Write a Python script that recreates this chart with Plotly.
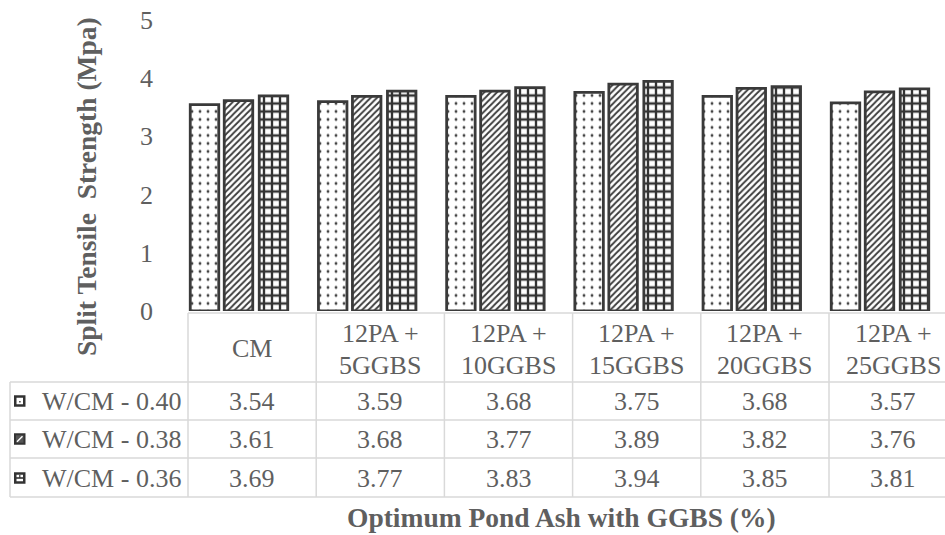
import plotly.graph_objects as go

# ---- data -------------------------------------------------------------
categories = ["CM", "12PA +<br>5GGBS", "12PA +<br>10GGBS", "12PA +<br>15GGBS",
              "12PA +<br>20GGBS", "12PA +<br>25GGBS"]
series_names = ["W/CM - 0.40", "W/CM - 0.38", "W/CM - 0.36"]
wcm_040 = [3.54, 3.59, 3.68, 3.75, 3.68, 3.57]
wcm_038 = [3.61, 3.68, 3.77, 3.89, 3.82, 3.76]
wcm_036 = [3.69, 3.77, 3.83, 3.94, 3.85, 3.81]
y_ticks = [0, 1, 2, 3, 4, 5]
x_title = "Optimum Pond Ash with GGBS (%)"
y_title = "Split Tensile Strength (Mpa)"

series_values = [wcm_040, wcm_038, wcm_036]

# ---- canvas geometry (pixels) -----------------------------------------
W, H = 945, 535
PLOT_LEFT = 188            # left edge of plot area / first table column
COL_W = 128.2              # one category column
Y0_PX, Y5_PX = 311, 19.5   # pixel rows of y = 0 and y = 5

FONT = "Liberation Serif, Times New Roman, serif"
TXT = "#5f5f5f"
EDGE = "#3a3a3a"
GRID = "#d9d9d9"


def px(x):
    return x / W


def py(y):
    return 1 - y / H


fig = go.Figure()

# patterned bars: dots, diagonal hatch, brick-like grid
patterns = [
    dict(shape=".", size=8, solidity=0.1, fgcolor="#444444", bgcolor="white", fillmode="replace"),
    dict(shape="/", size=4.5, solidity=0.4, fgcolor="#3a3a3a", bgcolor="white", fillmode="replace"),
    dict(shape="+", size=8, solidity=0.5, fgcolor="#333333", bgcolor="white", fillmode="replace"),
]
bar_w_px = 28.5
starts_px = [2.25, 36.25, 71.25]
for name, vals, pat, s in zip(series_names, series_values, patterns, starts_px):
    fig.add_trace(go.Bar(
        x=list(range(len(categories))), y=vals, name=name,
        width=bar_w_px / COL_W, offset=(s - COL_W / 2) / COL_W,
        marker=dict(color="white", pattern=pat, line=dict(color=EDGE, width=2.8)),
        showlegend=False, hoverinfo="name+y",
    ))

x_span = (W - PLOT_LEFT) / COL_W
fig.update_layout(
    width=W, height=H, autosize=False,
    margin=dict(l=0, r=0, t=0, b=0, autoexpand=False),
    paper_bgcolor="white", plot_bgcolor="white",
    barmode="overlay",
    font=dict(family=FONT, color=TXT, size=26),
    xaxis=dict(domain=[px(PLOT_LEFT), 1], range=[-0.5, -0.5 + x_span], automargin=False,
               showticklabels=False, showgrid=False, zeroline=False, showline=False),
    yaxis=dict(domain=[py(Y0_PX), py(Y5_PX)], range=[0, 5], tickvals=y_ticks,
               automargin=False,
               showgrid=False, zeroline=False, showline=False, ticks="",
               ticklabelstandoff=34,
               tickfont=dict(family=FONT, size=26, color=TXT)),
)

shapes = []
annotations = []

# ---- data table ---------------------------------------------------------
TABLE_TOP = 313
row_lines = [382, 420, 458, 497]
TABLE_LEFT = 10

def line(x0, y0, x1, y1, color=GRID, width=1.5):
    shapes.append(dict(type="line", xref="paper", yref="paper",
                       x0=px(x0), y0=py(y0), x1=px(x1), y1=py(y1),
                       line=dict(color=color, width=width)))

line(PLOT_LEFT, TABLE_TOP, W, TABLE_TOP)
for yl in row_lines:
    line(TABLE_LEFT, yl, W, yl)
line(TABLE_LEFT, row_lines[0], TABLE_LEFT, row_lines[-1])
for i in range(len(categories)):
    xl = PLOT_LEFT + i * COL_W
    line(xl, TABLE_TOP, xl, row_lines[-1])

def text(x, y, s, size=26, bold=False, xanchor="center", angle=0):
    annotations.append(dict(
        xref="paper", yref="paper", x=px(x), y=py(y), text=f"<b>{s}</b>" if bold else s,
        showarrow=False, xanchor=xanchor, yanchor="middle", textangle=angle,
        font=dict(family=FONT, size=size, color=TXT)))

# category header cells
for i, cat in enumerate(categories):
    cx = PLOT_LEFT + (i + 0.5) * COL_W
    parts = cat.split("<br>")
    if len(parts) == 1:
        text(cx, 348, parts[0])
    else:
        text(cx, 333, parts[0])
        text(cx, 365, parts[1])

# value rows with legend keys
row_centers = [401, 439, 478]
for r, (name, vals) in enumerate(zip(series_names, series_values)):
    yc = row_centers[r]
    text(40, yc, name, xanchor="left")
    for i, v in enumerate(vals):
        text(PLOT_LEFT + (i + 0.5) * COL_W, yc, f"{v:.2f}")

# legend key icons
def rect(x0, y0, x1, y1, fill, lc=EDGE, lw=0):
    shapes.append(dict(type="rect", xref="paper", yref="paper",
                       x0=px(x0), y0=py(y0), x1=px(x1), y1=py(y1),
                       fillcolor=fill, line=dict(color=lc, width=lw)))

for r, yc in enumerate(row_centers):
    x0, x1 = 14, 25.5
    y0, y1 = yc - 5.75, yc + 5.75
    rect(x0, y0, x1, y1, "#333333")
    if r == 0:
        rect(x0 + 2.5, y0 + 2.5, x1 - 2.5, y1 - 2.5, "white")
        rect(19.2, yc, 20.6, yc + 1.4, "#333333")
    elif r == 1:
        rect(x0 + 2, y0 + 2, x1 - 2, y1 - 2, "#555555")
        shapes.append(dict(type="line", xref="paper", yref="paper",
                           x0=px(x0 + 3), y0=py(y1 - 3), x1=px(x1 - 3), y1=py(y0 + 3),
                           line=dict(color="white", width=1.5)))
    else:
        rect(x0 + 2.5, y0 + 2.5, x1 - 2.5, yc - 0.8, "white")
        rect(x0 + 2.5, yc + 0.8, x1 - 2.5, y1 - 2.5, "white")
        rect(19.2, y0 + 2.5, 20.4, yc, "#333333")

# axis titles
text(561, 517, x_title, size=27.5, bold=True)
text(87, 187, y_title.replace("Tensile ", "Tensile&nbsp; "), size=27.5, bold=True, angle=-90)

fig.update_layout(shapes=shapes, annotations=annotations)
fig.write_html("out.html")
